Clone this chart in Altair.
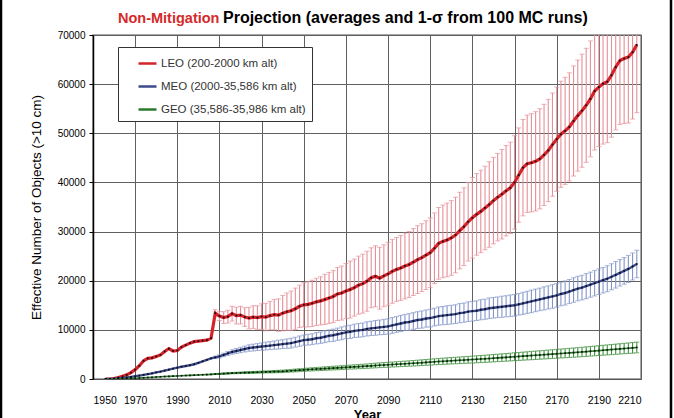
import altair as alt
import pandas as pd

# ---------------- data ----------------
YEARS = list(range(1956, 2210, 2))
SERIES = ["LEO (200-2000 km alt)", "MEO (2000-35,586 km alt)", "GEO (35,586-35,986 km alt)"]

LEO_MEAN = [
    0, 0, 100, 300, 550, 850, 1300, 1900, 2700, 3700,
    4200, 4300, 4600, 4900, 5600, 6200, 5700, 5800, 6500, 6900,
    7300, 7600, 7700, 7800, 7900, 8300, 13400, 12800, 12500, 12700,
    13300, 12900, 13000, 12600, 12400, 12600, 12500, 12700, 12600, 12900,
    13100, 13000, 13400, 13700, 13900, 14300, 14800, 15100, 15200, 15400,
    15700, 15900, 16200, 16500, 16800, 17300, 17500, 17900, 18200, 18600,
    19100, 19400, 19900, 20600, 20900, 20500, 21000, 21400, 21900, 22300,
    22600, 23000, 23300, 23800, 24300, 24700, 25200, 25700, 26600, 27600,
    28000, 28300, 28700, 29300, 30200, 31000, 32000, 32800, 33500, 34100,
    34800, 35500, 36300, 37000, 37600, 38300, 38900, 40000, 41500, 43000,
    43800, 44000, 44300, 44800, 45600, 46500, 47700, 48800, 49800, 50500,
    51300, 52500, 53600, 54600, 55700, 57000, 58600, 59400, 60100, 60500,
    61800, 63500, 64800, 65200, 65500, 66500, 68000,
]
LEO_SIGMA = [
    0, 0, 0, 0, 0, 0, 0, 0, 0, 0,
    0, 0, 0, 0, 0, 0, 0, 0, 0, 0,
    0, 0, 0, 0, 0, 0, 700, 900, 1200, 1300,
    1500, 1700, 1800, 1900, 2200, 2300, 2400, 2600, 2800, 2900,
    3100, 3300, 3600, 3800, 4000, 4200, 4300, 4500, 4600, 4700,
    4800, 4900, 5100, 5200, 5300, 5400, 5500, 5600, 5800, 5800,
    5900, 6000, 6100, 6100, 6200, 6300, 6300, 6400, 6500, 6500,
    6600, 6700, 6700, 6800, 6900, 6900, 7000, 7100, 7200, 7300,
    7400, 7500, 7600, 7700, 7800, 7900, 8000, 8200, 8300, 8400,
    8500, 8700, 8800, 8900, 9100, 9200, 9300, 9500, 9600, 9800,
    9900, 10000, 10100, 10200, 10300, 10400, 10500, 10600, 10800, 10900,
    11000, 11200, 11300, 11500, 11600, 11800, 12000, 12100, 12300, 12400,
    12600, 12800, 13000, 13200, 13400, 13600, 13800,
]
MEO_MEAN = [
    0, 20, 60, 120, 200, 300, 420, 550, 700, 850,
    1000, 1150, 1350, 1500, 1700, 1900, 2100, 2300, 2500, 2650,
    2800, 3000, 3300, 3600, 3900, 4200, 4400, 4600, 4900, 5200,
    5500, 5700, 5900, 6100, 6300, 6400, 6500, 6600, 6700, 6800,
    6900, 7000, 7100, 7200, 7300, 7500, 7700, 7900, 8000, 8100,
    8300, 8400, 8600, 8800, 8900, 9100, 9300, 9500, 9600, 9800,
    9900, 10000, 10200, 10300, 10400, 10500, 10600, 10700, 10900, 11100,
    11300, 11500, 11600, 11800, 12000, 12100, 12300, 12400, 12600, 12800,
    12900, 13000, 13100, 13200, 13400, 13500, 13700, 13800, 13900, 14100,
    14200, 14400, 14500, 14600, 14700, 14800, 14900, 15000, 15200, 15400,
    15600, 15800, 16000, 16200, 16400, 16600, 16800, 17000, 17300, 17500,
    17800, 18100, 18400, 18600, 18900, 19200, 19500, 19800, 20100, 20400,
    20800, 21200, 21600, 22000, 22400, 22900, 23400,
]
MEO_SIGMA = [
    0, 0, 0, 0, 0, 0, 0, 0, 0, 0,
    0, 0, 0, 0, 0, 0, 0, 0, 0, 0,
    0, 0, 0, 0, 0, 0, 250, 300, 350, 400,
    450, 500, 550, 600, 650, 700, 700, 750, 800, 800,
    850, 900, 900, 950, 1000, 1000, 1050, 1050, 1100, 1100,
    1150, 1150, 1200, 1200, 1250, 1250, 1300, 1300, 1350, 1350,
    1400, 1400, 1450, 1450, 1500, 1500, 1550, 1550, 1600, 1600,
    1650, 1650, 1700, 1700, 1700, 1750, 1750, 1800, 1800, 1850,
    1850, 1900, 1900, 1900, 1950, 1950, 2000, 2000, 2000, 2050,
    2050, 2100, 2100, 2100, 2150, 2150, 2200, 2200, 2200, 2250,
    2250, 2300, 2300, 2300, 2350, 2350, 2400, 2400, 2400, 2450,
    2450, 2500, 2500, 2500, 2550, 2550, 2600, 2600, 2600, 2650,
    2650, 2700, 2700, 2700, 2750, 2750, 2800,
]
GEO_MEAN = [
    0, 0, 20, 40, 60, 90, 120, 150, 200, 250,
    300, 350, 400, 450, 500, 540, 580, 620, 660, 700,
    740, 780, 820, 860, 900, 950, 1000, 1050, 1100, 1150,
    1200, 1230, 1260, 1290, 1320, 1350, 1380, 1410, 1440, 1470,
    1500, 1530, 1560, 1620, 1680, 1740, 1800, 1860, 1920, 1970,
    2020, 2070, 2120, 2170, 2220, 2270, 2320, 2370, 2420, 2470,
    2520, 2570, 2620, 2680, 2740, 2800, 2850, 2900, 2950, 3000,
    3050, 3100, 3150, 3200, 3260, 3320, 3380, 3440, 3500, 3560,
    3610, 3660, 3710, 3760, 3810, 3860, 3910, 3960, 4010, 4060,
    4110, 4170, 4230, 4290, 4350, 4410, 4470, 4530, 4590, 4650,
    4710, 4770, 4830, 4890, 4950, 5010, 5070, 5130, 5190, 5250,
    5310, 5370, 5430, 5500, 5570, 5640, 5710, 5780, 5850, 5920,
    5990, 6060, 6130, 6200, 6270, 6340, 6420,
]
GEO_SIGMA = [
    0, 0, 0, 0, 0, 0, 0, 0, 0, 0,
    0, 0, 0, 0, 0, 0, 0, 0, 0, 0,
    0, 0, 0, 0, 0, 0, 80, 100, 110, 120,
    130, 140, 150, 160, 170, 180, 190, 200, 210, 220,
    230, 240, 250, 260, 270, 280, 290, 300, 310, 320,
    330, 340, 350, 360, 370, 380, 390, 400, 410, 420,
    430, 440, 450, 460, 470, 480, 490, 500, 510, 520,
    530, 540, 550, 560, 570, 580, 590, 600, 610, 620,
    630, 640, 650, 660, 670, 680, 690, 700, 710, 720,
    730, 740, 750, 760, 770, 780, 790, 800, 810, 820,
    830, 840, 850, 860, 870, 880, 890, 900, 910, 920,
    930, 940, 950, 960, 970, 980, 990, 1000, 1010, 1020,
    1030, 1040, 1050, 1060, 1070, 1080, 1090,
]

X_TICKS = [1950, 1970, 1990, 2010, 2030, 2050, 2070, 2090, 2110, 2130, 2150, 2170, 2190, 2210]
Y_TICKS = [0, 10000, 20000, 30000, 40000, 50000, 60000, 70000]

TITLE_RED = "Non-Mitigation"
TITLE_BLACK = "Projection (averages and 1-\u03c3 from 100 MC runs)"

# ---------------- table ----------------
means = [LEO_MEAN, MEO_MEAN, GEO_MEAN]
sigmas = [LEO_SIGMA, MEO_SIGMA, GEO_SIGMA]
for arr in means + sigmas:
    assert len(arr) == len(YEARS), len(arr)

rows = []
for name, mean, sig in zip(SERIES, means, sigmas):
    for yr, m, s in zip(YEARS, mean, sig):
        rows.append({"year": yr, "series": name, "mean": m, "sigma": s})
df = pd.DataFrame(rows)

# ---------------- styling ----------------
FONT = "Liberation Sans"
LINE_COLORS = ["#d3232b", "#3c4a8e", "#2b7a2b"]
BAR_COLORS = ["#e58f97", "#8595c9", "#3f8f3f"]
LINE_WIDTHS = [3.2, 1.6, 2.6]
W, H = 548, 344

xenc = alt.X(
    "year:Q",
    scale=alt.Scale(domain=[1950, 2210], nice=False, zero=False),
    axis=alt.Axis(
        values=X_TICKS, format="d", title="Year", grid=True,
        tickSize=0, labelPadding=16, labelFontSize=10.5,
        titleY=39, titleBaseline="alphabetic", titleFontSize=13, titleFontWeight="bold",
        domainColor="#555",
    ),
)

yaxis = alt.Axis(
    values=Y_TICKS, format="d", title="Effective Number of Objects (>10 cm)", grid=True,
    tickSize=4, labelPadding=4, labelFontSize=10,
    titleX=-57, titleY=H / 2, titleAngle=-90, titleAlign="center", titleBaseline="middle",
    titleFontSize=13.5, titleFontWeight="normal",
    domainColor="black", domainWidth=1.5,
)
yscale = alt.Scale(domain=[0, 70000], nice=False)

base = alt.Chart(df)

bar_color = alt.Color("series:N", scale=alt.Scale(domain=SERIES, range=BAR_COLORS), legend=None)

bar_src = base.transform_filter("datum.sigma > 0").transform_calculate(
    lo="datum.mean - datum.sigma", hi="datum.mean + datum.sigma"
)

bars = bar_src.mark_rule(strokeWidth=1.1, clip=True).encode(
    x=xenc,
    y=alt.Y("lo:Q", scale=yscale, axis=yaxis),
    y2="hi:Q",
    color=bar_color,
)
caps_lo = bar_src.mark_tick(orient="horizontal", size=5, thickness=1, clip=True).encode(
    x=xenc, y=alt.Y("lo:Q", scale=yscale, axis=yaxis), color=bar_color
)
caps_hi = bar_src.mark_tick(orient="horizontal", size=5, thickness=1, clip=True).encode(
    x=xenc, y=alt.Y("hi:Q", scale=yscale, axis=yaxis), color=bar_color
)

leg = alt.Legend(
    orient="none", legendX=25, legendY=12, title=None,
    strokeColor="#333", fillColor="white", padding=6,
    symbolType="stroke", symbolSize=324, symbolOffset=13, symbolStrokeWidth=2.5,
    labelFont=FONT, labelFontSize=11.5, labelColor="#333", labelOffset=3,
    rowPadding=7, labelLimit=300,
)

lines = base.mark_line(clip=True).encode(
    x=xenc,
    y=alt.Y("mean:Q", scale=yscale, axis=yaxis),
    color=alt.Color("series:N", scale=alt.Scale(domain=SERIES, range=LINE_COLORS), legend=leg),
    strokeWidth=alt.StrokeWidth("series:N", scale=alt.Scale(domain=SERIES, range=LINE_WIDTHS), legend=None),
)

markers = base.mark_point(shape="square", filled=True, size=3, color="black", opacity=0.85, clip=True).encode(
    x=xenc, y=alt.Y("mean:Q", scale=yscale, axis=yaxis)
)

title_red = alt.Chart(pd.DataFrame({"t": [TITLE_RED]})).mark_text(
    align="left", baseline="alphabetic", font=FONT, fontSize=14.5, fontWeight="bold", color="#d42a2a"
).encode(x=alt.value(25), y=alt.value(-12), text="t:N")

title_black = alt.Chart(pd.DataFrame({"t": [TITLE_BLACK]})).mark_text(
    align="left", baseline="alphabetic", font=FONT, fontSize=16, fontWeight="bold", color="black"
).encode(x=alt.value(130), y=alt.value(-12), text="t:N")

frame_l = alt.Chart(pd.DataFrame({"t": [0]})).mark_rule(color="black", strokeWidth=2.5).encode(
    x=alt.value(-92), y=alt.value(-40), y2=alt.value(H + 45)
)
frame_r = alt.Chart(pd.DataFrame({"t": [0]})).mark_rule(color="black", strokeWidth=2.5).encode(
    x=alt.value(W + 30), y=alt.value(-40), y2=alt.value(H + 45)
)

chart = (
    alt.layer(bars, caps_lo, caps_hi, lines, markers, title_red, title_black, frame_l, frame_r)
    .resolve_scale(color="independent")
    .properties(
        width=W, height=H,
        autosize=alt.AutoSizeParams(type="none"),
        padding={"left": 93, "top": 35, "right": 33, "bottom": 39},
        background="white",
    )
    .configure_axis(
        labelFont=FONT, titleFont=FONT, labelColor="black", titleColor="black",
        gridColor="#606060", gridWidth=1, gridOpacity=1, tickColor="black",
    )
    .configure_view(stroke="#8a8a8a", strokeWidth=1.5)
)

chart.save("out.html", embed_options={"renderer": "svg", "actions": False})
